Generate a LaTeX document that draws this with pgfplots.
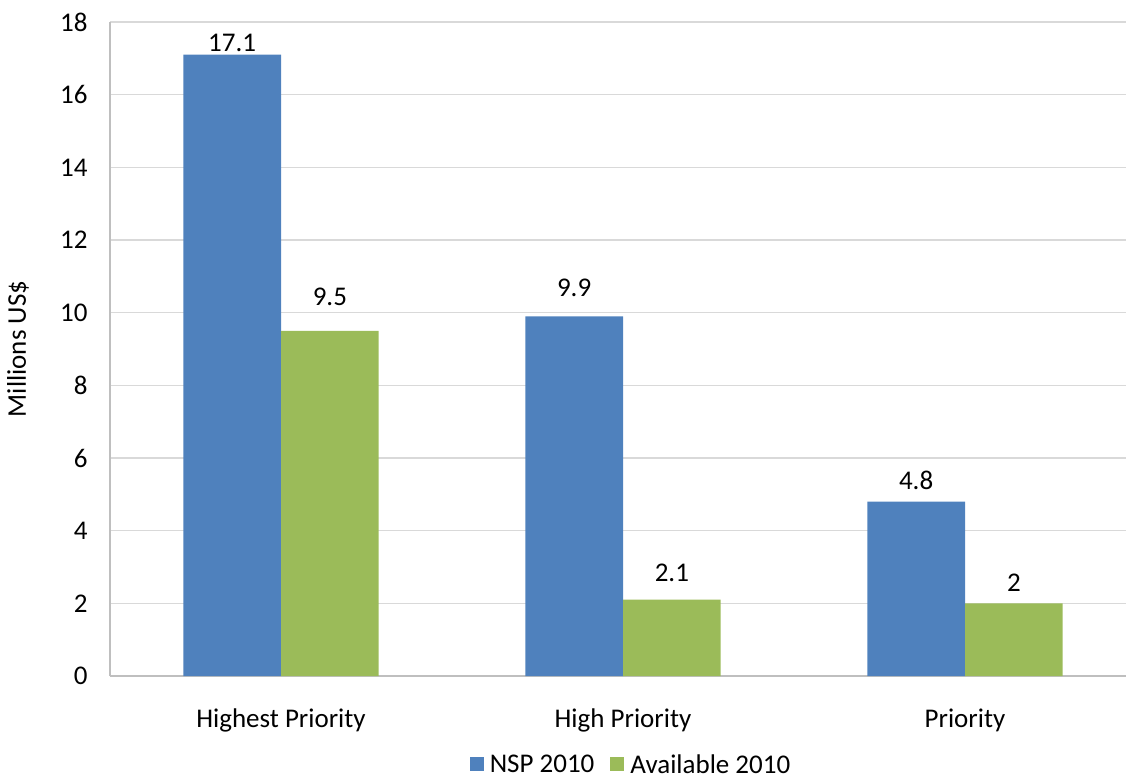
\documentclass[border=0pt]{standalone}
\usepackage{pgfplots}
\pgfplotsset{compat=1.18}
\usepackage{fontspec}
\setmainfont{Carlito}
\definecolor{nspblue}{HTML}{4F81BD}
\definecolor{availgreen}{HTML}{9BBB59}
\definecolor{gridgray}{HTML}{D9D9D9}
\definecolor{axisgray}{HTML}{BFBFBF}

% x, value, label offset above bar top (pt)
\pgfplotstableread{
x  y    off
0  17.1 3
1  9.9  20
2  4.8  12
}\nsp
\pgfplotstableread{
x  y    off
0  9.5  25
1  2.1  18
2  2    12
}\avail

\newcommand{\chartfont}{\fontsize{27}{32}\selectfont}

\begin{document}
\begin{tikzpicture}[x=1pt,y=1pt]
\begin{axis}[
    at={(110pt,104pt)}, anchor=south west,
    scale only axis,
    width=1016pt, height=654pt,
    ybar=0pt, bar width=97.7pt,
    xmin=-0.5, xmax=2.4708,
    ymin=0, ymax=18,
    ytick={0,2,...,18},
    xtick={0,1,2},
    xticklabels={Highest Priority, High Priority, Priority},
    axis x line*=bottom, axis y line*=left,
    axis line style={axisgray, line width=1.3pt, -},
    ymajorgrids, grid style={gridgray, line width=1.3pt},
    major tick length=0pt,
    tick label style={font=\chartfont},
    /pgf/number format/assume math mode=true,
    yticklabel style={xshift=-19pt},
    xticklabel style={anchor=base, yshift=-51pt},
    visualization depends on={\thisrow{off}\as\labeloff},
    nodes near coords,
    nodes near coords style={font=\chartfont, anchor=base, yshift=\labeloff pt, black},
    point meta=explicit,
    legend columns=2,
    legend style={at={(rel axis cs:0.5128,-0.1360)}, anchor=center, draw=none,
        font=\chartfont, inner sep=0pt, column sep=4pt,
        /tikz/every even column/.append style={column sep=14pt}},
    legend image code/.code={\fill[#1] (0pt,-6pt) rectangle (14pt,8pt);},
]
\addplot[fill=nspblue, draw=none] table[x=x, y=y, meta=y] {\nsp};
\addplot[fill=availgreen, draw=none] table[x=x, y=y, meta=y] {\avail};
\legend{NSP 2010, Available 2010}
\end{axis}
\node[rotate=90, font=\chartfont] at (18,431) {Millions US\$};
\pgfresetboundingbox
\useasboundingbox (0,0) rectangle (1126,780);
\end{tikzpicture}
\end{document}
